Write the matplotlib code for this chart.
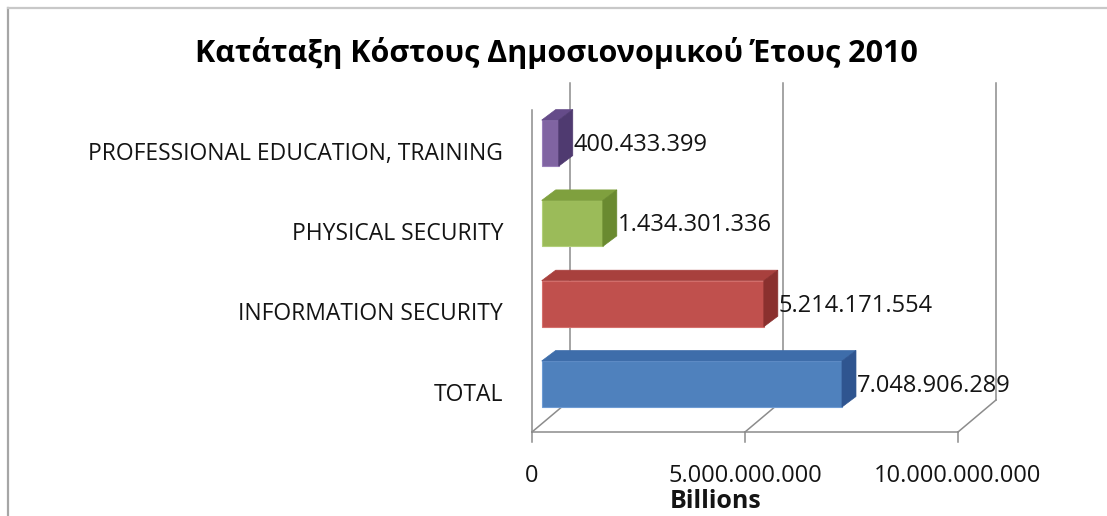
import matplotlib.pyplot as plt
from matplotlib.lines import Line2D
from matplotlib.patches import Polygon

# bottom to top, as the rows are stacked
categories = ["TOTAL", "INFORMATION SECURITY", "PHYSICAL SECURITY",
              "PROFESSIONAL EDUCATION, TRAINING"]
costs = [7048906289, 5214171554, 1434301336, 400433399]

front_colors = ["#4F81BD", "#C0504D", "#9BBB59", "#8064A2"]
edge_colors = ["#6E9BD3", "#D4706D", "#B2CF7A", "#9A80BA"]
top_colors = ["#3E6DAA", "#A8403D", "#7FA03E", "#654B89"]
side_colors = ["#2F5590", "#8A302E", "#6A8A30", "#4F3A70"]

axis_ticks = [0, 5_000_000_000, 10_000_000_000]
tick_labels = ["0", "5.000.000.000", "10.000.000.000"]
title = "Κατάταξη Κόστους Δημοσιονομικού Έτους 2010"
axis_title = "Billions"

plt.rcParams["font.family"] = ["Open Sans", "DejaVu Sans"]

W, H = 1107, 516
PX_PER_UNIT = 42.6 / 1e9     # horizontal pixels per unit of cost
PX_PER_ROW = 80.3            # vertical pixels between bar rows
BAR_X0 = 541.7               # pixel column where bars start
ROW0_Y = 384.0               # pixel row (from top) of the first bar centre

GRID = "#8C8C8C"
TEXT = "#141414"


def dx(px):
    return px / PX_PER_UNIT


def dy(px):
    return px / PX_PER_ROW


def row(py):
    # pixel row measured from the top -> y data coordinate
    return (ROW0_Y - py) / PX_PER_ROW


fig = plt.figure(figsize=(W / 100, H / 100), dpi=100)
ax = fig.add_axes([0, 0, 1, 1])
ax.set_xlim(-dx(BAR_X0), dx(W - BAR_X0))
ax.set_ylim(row(H), row(0))
ax.axis("off")

# chart frame (left and top edges only)
fig.add_artist(Line2D([8 / W, 8 / W], [0, 1 - 8 / H], transform=fig.transFigure,
                      color="#A6A6A6", lw=1.6))
fig.add_artist(Line2D([8 / W, 1], [1 - 8 / H, 1 - 8 / H], transform=fig.transFigure,
                      color="#C8C8C8", lw=1.6))

# --- 3D box: floor, back wall gridlines, left edge -------------------------
front_off = dx(532 - BAR_X0)
floor_y = row(432)
wall_dx, wall_dy = dx(38), dy(32)
wall_top = row(83)

front_x = [front_off + t for t in axis_ticks]
ax.plot([front_x[0], front_x[-1]], [floor_y, floor_y], color=GRID, lw=1.1, zorder=1)
ax.plot([front_x[0], front_x[0]], [floor_y, row(110)], color=GRID, lw=1.1, zorder=1)
for x in front_x:
    ax.plot([x, x + wall_dx], [floor_y, floor_y + wall_dy], color=GRID, lw=1.1, zorder=1)
    ax.plot([x + wall_dx, x + wall_dx], [floor_y + wall_dy, wall_top],
            color=GRID, lw=1.1, zorder=1)
    ax.plot([x, x], [floor_y, floor_y - dy(10)], color=GRID, lw=1.1, zorder=1)

for x, lab in zip(front_x, tick_labels):
    ax.text(x, row(476), lab, ha="center", va="center", fontsize=17, color=TEXT)
ax.text(dx(716 - BAR_X0), row(502), axis_title, ha="center", va="center",
        fontsize=18, fontweight="bold", color=TEXT)

# --- bars -------------------------------------------------------------------
ypos = list(range(len(categories)))
bar_h = dy(46)
depth_x, depth_y = dx(14), dy(10.5)

ax.barh(ypos, costs, height=bar_h, left=0, color=front_colors,
        edgecolor=edge_colors, linewidth=0.8, zorder=3)

for y, v, tc, sc in zip(ypos, costs, top_colors, side_colors):
    top = y + bar_h / 2
    bot = y - bar_h / 2
    ax.add_patch(Polygon([(0, top), (v, top), (v + depth_x, top + depth_y),
                          (depth_x, top + depth_y)], closed=True,
                         facecolor=tc, edgecolor=tc, lw=0.5, zorder=3))
    ax.add_patch(Polygon([(v, bot), (v, top), (v + depth_x, top + depth_y),
                          (v + depth_x, bot + depth_y)], closed=True,
                         facecolor=sc, edgecolor=sc, lw=0.5, zorder=3))
    label = f"{v:,}".replace(",", ".")
    ax.text(v + depth_x + dx(1), y - dy(2), label, ha="left", va="center",
            fontsize=17, color=TEXT, zorder=4)

for y, name in zip(ypos, categories):
    ax.text(dx(503 - BAR_X0), y - dy(10.8), name, ha="right", va="center",
            fontsize=16.5, color=TEXT)

ax.text(dx(556 - BAR_X0), row(53), title, ha="center", va="center",
        fontsize=22, fontweight="bold", color="#000000")

fig.savefig("out.png", dpi=100)
